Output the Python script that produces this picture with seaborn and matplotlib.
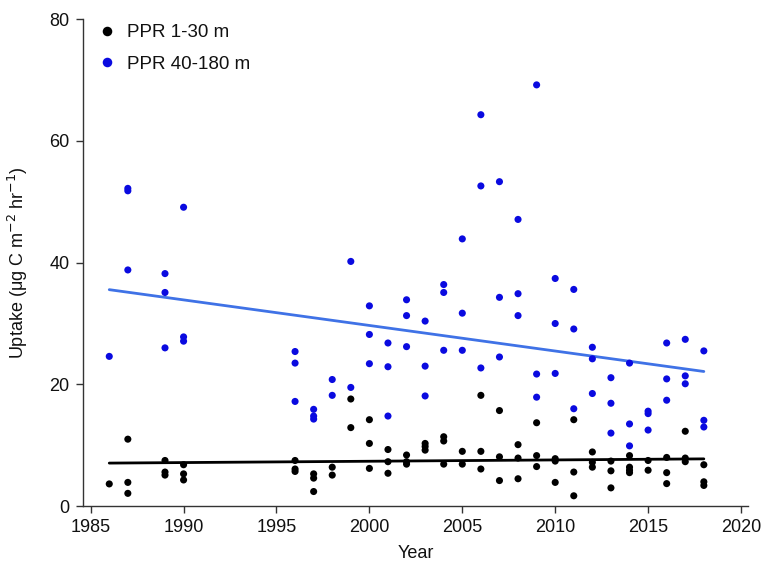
import matplotlib
matplotlib.use("Agg")
import matplotlib.pyplot as plt
import seaborn as sns
import pandas as pd
import numpy as np

# ---- data ----
years_shallow = [1986,
                 1987, 1987, 1987,
                 1989, 1989, 1989,
                 1990, 1990, 1990,
                 1996, 1996, 1996,
                 1997, 1997, 1997,
                 1998, 1998,
                 1999, 1999,
                 2000, 2000, 2000,
                 2001, 2001, 2001,
                 2002, 2002, 2002,
                 2003, 2003, 2003,
                 2004, 2004, 2004,
                 2005, 2005,
                 2006, 2006, 2006,
                 2007, 2007, 2007,
                 2008, 2008, 2008,
                 2009, 2009, 2009,
                 2010, 2010, 2010,
                 2011, 2011, 2011,
                 2012, 2012, 2012,
                 2013, 2013, 2013,
                 2014, 2014, 2014, 2014,
                 2015, 2015,
                 2016, 2016, 2016,
                 2017, 2017, 2017,
                 2018, 2018, 2018]
uptake_shallow = [3.65,
                  11.0, 3.9, 2.1,
                  7.5, 5.6, 5.1,
                  6.8, 5.3, 4.3,
                  7.5, 6.1, 5.7,
                  5.3, 4.6, 2.4,
                  6.4, 5.1,
                  17.6, 12.9,
                  14.2, 10.3, 6.2,
                  9.3, 7.3, 5.4,
                  8.4, 7.3, 6.9,
                  10.3, 9.8, 9.2,
                  11.4, 10.7, 6.9,
                  9.0, 6.9,
                  18.2, 9.0, 6.1,
                  15.7, 8.1, 4.2,
                  10.1, 7.9, 4.5,
                  13.7, 8.3, 6.5,
                  7.8, 7.4, 3.9,
                  14.2, 5.6, 1.7,
                  8.9, 7.2, 6.4,
                  7.4, 5.8, 3.0,
                  8.3, 6.4, 5.9, 5.5,
                  7.5, 5.9,
                  8.0, 5.5, 3.7,
                  12.3, 7.9, 7.3,
                  6.8, 4.0, 3.4]

years_deep = [1986,
              1987, 1987, 1987,
              1989, 1989, 1989,
              1990, 1990, 1990,
              1996, 1996, 1996,
              1997, 1997, 1997,
              1998, 1998,
              1999, 1999,
              2000, 2000, 2000,
              2001, 2001, 2001,
              2002, 2002, 2002,
              2003, 2003, 2003,
              2004, 2004, 2004,
              2005, 2005, 2005,
              2006, 2006, 2006,
              2007, 2007, 2007,
              2008, 2008, 2008,
              2009, 2009, 2009,
              2010, 2010, 2010,
              2011, 2011, 2011,
              2012, 2012, 2012,
              2013, 2013, 2013,
              2014, 2014, 2014,
              2015, 2015, 2015,
              2016, 2016, 2016,
              2017, 2017, 2017,
              2018, 2018, 2018]
uptake_deep = [24.6,
               52.2, 51.8, 38.8,
               38.2, 35.1, 26.0,
               49.1, 27.8, 27.1,
               25.4, 23.5, 17.2,
               15.9, 14.8, 14.3,
               20.8, 18.2,
               40.2, 19.5,
               32.9, 28.2, 23.4,
               26.8, 22.9, 14.8,
               33.9, 31.3, 26.2,
               30.4, 23.0, 18.1,
               36.4, 35.1, 25.6,
               43.9, 31.7, 25.6,
               64.3, 52.6, 22.7,
               53.3, 34.3, 24.5,
               47.1, 34.9, 31.3,
               69.2, 21.7, 17.9,
               37.4, 30.0, 21.8,
               35.6, 29.1, 16.0,
               26.1, 24.2, 18.5,
               21.1, 16.9, 12.0,
               23.5, 13.5, 9.9,
               15.6, 15.2, 12.5,
               26.8, 20.9, 17.4,
               27.4, 21.4, 20.1,
               25.5, 14.1, 13.0]

series_names = ["PPR 1-30 m", "PPR 40-180 m"]
x_ticks = [1985, 1990, 1995, 2000, 2005, 2010, 2015, 2020]
y_ticks = [0, 20, 40, 60, 80]

df = pd.concat([
    pd.DataFrame({"Year": years_shallow, "Uptake": uptake_shallow, "Series": series_names[0]}),
    pd.DataFrame({"Year": years_deep, "Uptake": uptake_deep, "Series": series_names[1]}),
], ignore_index=True)

sns.set_style("ticks")
plt.rcParams["font.family"] = ["Liberation Sans", "DejaVu Sans"]

fig = plt.figure(figsize=(7.78, 5.63), dpi=100)
ax = fig.add_axes([0.107, 0.101, 0.855, 0.865])

point_colors = {series_names[0]: "#000000", series_names[1]: "#0a0ae0"}
line_colors = {series_names[0]: "#000000", series_names[1]: "#3f72e6"}

sns.scatterplot(data=df, x="Year", y="Uptake", hue="Series", palette=point_colors,
                s=26, linewidth=0, ax=ax, zorder=3)
for name in series_names:
    sub = df[df["Series"] == name]
    sns.regplot(data=sub, x="Year", y="Uptake", scatter=False, ci=None,
                color=line_colors[name], line_kws={"linewidth": 2.0}, ax=ax,
                truncate=True)

ax.set_xlim(1984.6, 2020.4)
ax.set_ylim(0, 80)
ax.set_xticks(x_ticks)
ax.set_yticks(y_ticks)
ax.tick_params(axis="both", labelsize=13, length=5, width=1.0, colors="#333333",
               labelcolor="#111111")
ax.tick_params(axis="y", pad=5)
ax.tick_params(axis="x", pad=4)
for side in ["left", "bottom"]:
    ax.spines[side].set_linewidth(1.0)
    ax.spines[side].set_color("#333333")
sns.despine(ax=ax)

ax.set_xlabel("Year", fontsize=13, color="#111111", labelpad=7)
ax.set_ylabel(r"Uptake ($\mathregular{\mu}$g C m$^{-2}$ hr$^{-1}$)", fontsize=13,
              color="#111111", labelpad=14)

leg = ax.legend(loc="upper left", frameon=False, fontsize=13.5, handletextpad=0.55,
                handlelength=1.0, borderaxespad=0.0, labelspacing=0.75, markerscale=1.35,
                bbox_to_anchor=(0.011, 1.005))
for t in leg.get_texts():
    t.set_color("#111111")

fig.savefig("out.png", dpi=100)
